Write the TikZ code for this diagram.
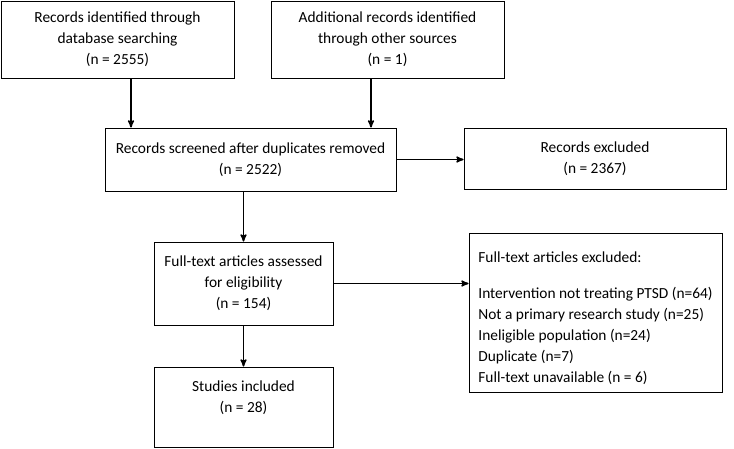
\documentclass[tikz,border=0pt]{standalone}
\usepackage{fontspec}
\setmainfont{Carlito}
\usetikzlibrary{arrows}

\begin{document}
\begin{tikzpicture}[x=1pt,y=-1pt,>=stealth',line width=0.8pt,
			box/.style={draw,align=center,inner sep=0pt,font=\fontsize{15.4pt}{21pt}\selectfont},
			flow/.style={->,line width=1.5pt}]
			
			\useasboundingbox (0,0) rectangle (734,448);
			
			\node[box,minimum width=233pt,minimum height=77pt] (ident) at (117.5,39.5) {Records identified through\\database searching\\(n = 2555)};
			\node[box,minimum width=233pt,minimum height=77pt] (other) at (387.5,39.5) {Additional records identified\\through other sources\\(n = 1)};
			\node[box,minimum width=291pt,minimum height=63pt] (screen) at (250.5,159.5) {Records screened after duplicates removed\\(n = 2522)};
			\node[box,minimum width=262pt,minimum height=61pt] (excl) at (595,158.5) {Records excluded\\(n = 2367)};
			\node[box,minimum width=179pt,minimum height=83pt] (full) at (243.5,283.5) {Full-text articles assessed\\for eligibility\\(n = 154)};
			\node[box,minimum width=179pt,minimum height=80pt] (incl) at (243.5,407) {Studies included\\(n = 28)\\\mbox{}};
			\node[box,align=left,minimum width=253pt,minimum height=159pt] (fullexcl) at (595.5,312.5) {\mbox{}\\[2pt]Full-text articles excluded:\\[15pt]Intervention not treating PTSD (n=64)\\Not a primary research study (n=25)\\Ineligible population (n=24)\\Duplicate (n=7)\\Full-text unavailable (n = 6)};
			
			\coordinate (d1) at (131,0);
			\coordinate (d2) at (371,0);
			
			\path[flow]
			(ident.south -| d1) edge (screen.north -| d1)
			(other.south -| d2) edge (screen.north -| d2)
			(screen.east) edge (screen.east -| excl.west)
			(screen.south -| full) edge (full.north)
			(full.east) edge (full.east -| fullexcl.west)
			(full.south) edge (incl.north)
			;
			\end{tikzpicture}
\end{document}
